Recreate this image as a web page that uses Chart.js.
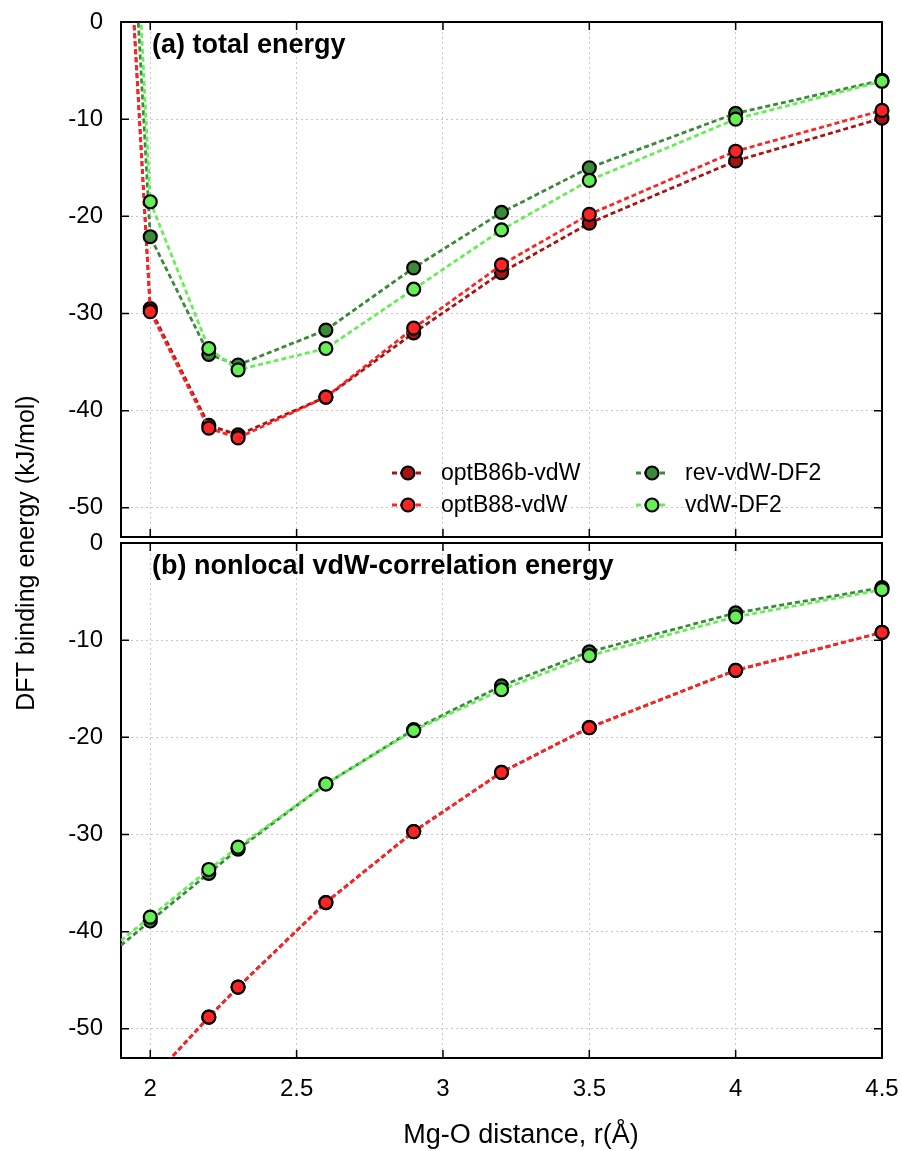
<!DOCTYPE html>
<html lang="en">
<head>
<meta charset="UTF-8" />
<title>Mg-O binding energy</title>
<script src="https://cdn.jsdelivr.net/npm/chart.js"></script>
<style>
    body { margin: 0; background: #fff; }
    #wrap { position: relative; width: 902px; height: 1151px; }
    #wrap canvas { position: absolute; left: 0; top: 0; }
</style>
</head>
<body>
<div id="wrap">
    <canvas id="totalChart" width="902" height="1151"></canvas>
    <canvas id="nonlocalChart" width="902" height="1151"></canvas>
</div>
<script>
// Mg-O distance (Angstrom)
const distances = [1.9, 2.0, 2.2, 2.3, 2.6, 2.9, 3.2, 3.5, 4.0, 4.5];
const seriesNames = ['optB86b-vdW', 'optB88-vdW', 'rev-vdW-DF2', 'vdW-DF2'];

// (a) total binding energy, kJ/mol
const totalB86b  = [23.5, -29.5, -41.5, -42.5, -38.6, -32.0, -25.8, -20.7, -14.3, -9.9];
const totalB88   = [23.5, -29.8, -41.8, -42.8, -38.6, -31.5, -25.0, -19.8, -13.3, -9.1];
const totalRev   = [32.0, -22.1, -34.2, -35.3, -31.7, -25.3, -19.6, -15.0, -9.4, -6.0];
const totalDF2   = [40.0, -18.5, -33.6, -35.8, -33.6, -27.5, -21.4, -16.3, -10.0, -6.1];

// (b) nonlocal vdW-correlation energy, kJ/mol
const nlB86b = [-61.0, -55.3, -48.8, -45.7, -37.0, -29.7, -23.6, -19.0, -13.1, -9.2];
const nlB88  = [-61.0, -55.3, -48.8, -45.7, -37.0, -29.7, -23.6, -19.0, -13.1, -9.2];
const nlRev  = [-41.4, -38.9, -34.0, -31.5, -24.8, -19.2, -14.7, -11.2, -7.2, -4.6];
const nlDF2  = [-40.9, -38.5, -33.6, -31.3, -24.8, -19.3, -15.1, -11.6, -7.6, -4.8];

const xTicks = [2, 2.5, 3, 3.5, 4, 4.5];
const yTicks = [0, -10, -20, -30, -40, -50];

const colors = ['#a81414', '#ff2424', '#3a8a3a', '#66ee55'];
const FONT = "'Liberation Sans', Arial, Helvetica, sans-serif";
const X_MIN = 1.9, X_MAX = 4.5, Y_MIN = -53, Y_MAX = 0;

Chart.defaults.font.family = FONT;
Chart.defaults.color = '#000';

function makeDatasets(series) {
    return series.map((vals, i) => ({
        label: seriesNames[i],
        data: vals.map((v, j) => ({ x: distances[j], y: v })),
        borderColor: colors[i],
        backgroundColor: colors[i],
        borderWidth: 2.8,
        borderDash: [5, 3],
        tension: 0,
        // the first distance lies on the left frame edge; its marker is not shown
        pointRadius: c => (c.raw && c.raw.x < X_MIN + 0.01) ? 0 : 6.5,
        pointBorderColor: '#000',
        pointBorderWidth: 2.2,
        pointBackgroundColor: colors[i],
        order: series.length - i,
        clip: { left: 0, top: 0, right: 10, bottom: 0 }
    }));
}

// black frame with gnuplot-style inward ticks on all four sides
const framePlugin = {
    id: 'frame',
    beforeDatasetsDraw(chart) {
        const { ctx, chartArea: a, scales } = chart;
        ctx.save();
        ctx.strokeStyle = '#000';
        ctx.lineWidth = 1.5;
        ctx.beginPath();
        scales.y.ticks.forEach(t => {
            const y = scales.y.getPixelForValue(t.value);
            ctx.moveTo(a.left, y); ctx.lineTo(a.left + 8, y);
            ctx.moveTo(a.right, y); ctx.lineTo(a.right - 8, y);
        });
        scales.x.ticks.forEach(t => {
            const x = scales.x.getPixelForValue(t.value);
            ctx.moveTo(x, a.top); ctx.lineTo(x, a.top + 8);
            ctx.moveTo(x, a.bottom); ctx.lineTo(x, a.bottom - 8);
        });
        ctx.stroke();
        ctx.lineWidth = 2;
        ctx.strokeRect(a.left, a.top, a.right - a.left, a.bottom - a.top);
        ctx.restore();
    }
};

// panel title, inner legend and shared axis titles
const textPlugin = {
    id: 'panelText',
    afterDraw(chart, args, opts) {
        const { ctx, chartArea: a } = chart;
        ctx.save();
        ctx.fillStyle = '#000';
        ctx.textAlign = 'left';
        ctx.textBaseline = 'alphabetic';
        ctx.font = 'bold 27px ' + FONT;
        ctx.fillText(opts.title, a.left + 31, a.top + opts.titleOffset);

        if (opts.legend) {
            const slots = [[408, 473], [408, 505], [652, 473], [652, 505]];
            chart.data.datasets.forEach((ds, i) => {
                const [cx, cy] = slots[i];
                ctx.strokeStyle = ds.borderColor;
                ctx.lineWidth = 2.8;
                ctx.setLineDash([5, 3]);
                ctx.beginPath();
                ctx.moveTo(cx - 16, cy); ctx.lineTo(cx + 16, cy);
                ctx.stroke();
                ctx.setLineDash([]);
                ctx.beginPath();
                ctx.arc(cx, cy, 6.5, 0, Math.PI * 2);
                ctx.fillStyle = ds.backgroundColor;
                ctx.fill();
                ctx.lineWidth = 2.2;
                ctx.strokeStyle = '#000';
                ctx.stroke();
                ctx.fillStyle = '#000';
                ctx.font = '23px ' + FONT;
                ctx.textBaseline = 'middle';
                ctx.fillText(ds.label, cx + 33, cy + 1);
            });
        }

        if (opts.axisTitles) {
            ctx.fillStyle = '#000';
            ctx.textAlign = 'center';
            ctx.textBaseline = 'alphabetic';
            ctx.font = '27px ' + FONT;
            ctx.fillText('Mg-O distance, r(Å)', 521, 1143);
            ctx.translate(34, 553);
            ctx.rotate(-Math.PI / 2);
            ctx.font = '25px ' + FONT;
            ctx.fillText('DFT binding energy (kJ/mol)', 0, 0);
        }
        ctx.restore();
    }
};

function makeChart(id, series, padding, showXLabels, textOpts) {
    return new Chart(document.getElementById(id), {
        type: 'line',
        data: { datasets: makeDatasets(series) },
        options: {
            responsive: false,
            animation: false,
            devicePixelRatio: 1,
            layout: { padding: padding },
            plugins: {
                legend: { display: false },
                tooltip: { enabled: false },
                panelText: textOpts
            },
            scales: {
                x: {
                    type: 'linear',
                    min: X_MIN,
                    max: X_MAX,
                    afterBuildTicks: s => { s.ticks = xTicks.map(v => ({ value: v })); },
                    afterFit: s => {
                        s.height = showXLabels ? 93 : 0;
                        s.paddingLeft = 0;
                        s.paddingRight = 0;
                    },
                    ticks: {
                        display: showXLabels,
                        autoSkip: false,
                        maxRotation: 0,
                        padding: 17,
                        font: { size: 24 },
                        callback: v => String(v)
                    },
                    grid: { color: '#c8c8c8', lineWidth: 1, drawTicks: false },
                    border: { display: false, dash: [2, 3] }
                },
                y: {
                    min: Y_MIN,
                    max: Y_MAX,
                    afterBuildTicks: s => { s.ticks = yTicks.map(v => ({ value: v })); },
                    afterFit: s => {
                        s.width = 121;
                        s.paddingTop = 0;
                        s.paddingBottom = 0;
                    },
                    ticks: {
                        padding: 18,
                        font: { size: 24 },
                        callback: v => String(v)
                    },
                    grid: { color: '#c8c8c8', lineWidth: 1, drawTicks: false },
                    border: { display: false, dash: [2, 3] }
                }
            }
        },
        plugins: [framePlugin, textPlugin]
    });
}

makeChart('totalChart', [totalB86b, totalB88, totalRev, totalDF2],
    { left: 0, right: 20, top: 22, bottom: 614 }, false,
    { title: '(a) total energy', titleOffset: 31, legend: true, axisTitles: false });

makeChart('nonlocalChart', [nlB86b, nlB88, nlRev, nlDF2],
    { left: 0, right: 20, top: 543, bottom: 0 }, true,
    { title: '(b) nonlocal vdW-correlation energy', titleOffset: 31, legend: false, axisTitles: true });
</script>
</body>
</html>
